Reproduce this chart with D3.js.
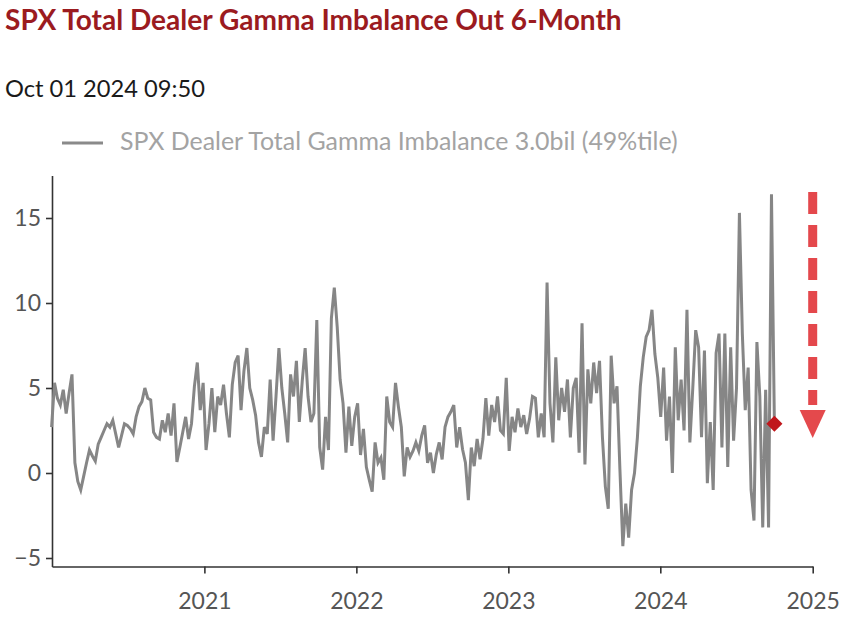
<!DOCTYPE html>
<html>
<head>
<meta charset="utf-8">
<script src="https://cdn.jsdelivr.net/npm/d3@7"></script>
<style>
  html, body { margin: 0; padding: 0; background: #ffffff; }
  svg { display: block; }
</style>
</head>
<body>
<svg id="chart" width="848" height="625"></svg>
<script>
// ---------- data ----------
const titleText = "SPX Total Dealer Gamma Imbalance Out 6-Month";
const subtitleText = "Oct 01 2024 09:50";
const seriesName = "SPX Dealer Total Gamma Imbalance 3.0bil (49%tile)";
const lastDate = "2024-10-01";          // last observation (weekly series, ends here)
const yTicks = [-5, 0, 5, 10, 15];
const xTickYears = [2021, 2022, 2023, 2024, 2025];

// weekly values, bn, oldest first
const gammaValues = [
  2.7,
  5.3, 4.4, 4.0, 4.9, 3.5, 4.7, 5.8, 0.6, -0.5, -1.0,
  -0.2, 0.6, 1.35, 1.0, 0.7, 1.7, 2.1, 2.5, 2.9, 2.7,
  3.1, 2.3, 1.5, 2.2, 2.9, 2.8, 2.6, 2.3, 3.3, 3.9,
  4.2, 5.0, 4.4, 4.3, 2.4, 2.1, 2.0, 3.1, 2.4, 3.5,
  2.2, 4.1, 0.65, 1.5, 2.4, 3.3, 2.0, 2.9, 5.1, 6.5,
  3.7, 5.3, 1.35, 2.9, 5.0, 2.4, 4.5, 4.0, 5.2, 3.5,
  2.1, 5.2, 6.5, 6.9, 3.7, 6.0, 7.35, 5.0, 4.3, 3.4,
  1.8, 0.95, 2.7, 2.3, 5.5, 1.9, 4.5, 7.35, 5.0, 3.5,
  1.8, 5.8, 4.5, 6.6, 3.0, 5.4, 7.35, 4.5, 3.0, 3.5,
  9.0, 1.5, 0.2, 3.3, 1.35, 9.1, 10.9, 8.6, 5.5, 4.1,
  1.2, 3.9, 1.6, 3.3, 4.1, 1.06, 2.6, 0.35, -0.4, -1.1,
  1.8, 0.6, 0.9, -0.4, 4.5, 3.0, 2.7, 5.3, 3.9, 2.7,
  -0.2, 1.5, 0.95, 1.3, 1.8, 1.3, 2.2, 2.8, 0.6, 1.2,
  0.0, 1.1, 1.8, 0.8, 2.7, 3.3, 3.6, 4.0, 1.5, 2.7,
  1.4, 0.6, -1.6, 1.5, 0.4, 2.0, 0.8, 2.0, 4.4, 2.2,
  4.0, 3.0, 4.5, 2.5, 2.3, 5.6, 1.3, 3.3, 2.4, 3.8,
  2.7, 3.4, 2.3, 3.2, 4.5, 4.4, 2.1, 3.5, 2.1, 11.2,
  4.1, 1.8, 6.8, 3.1, 5.0, 3.6, 5.5, 2.1, 5.0, 5.6,
  1.2, 8.8, 0.5, 6.1, 4.1, 6.5, 4.7, 6.6, 2.1, -0.8,
  -2.1, 6.9, 4.1, 5.1, 0.2, -4.3, -1.8, -3.8, -1.0, 0.0,
  2.1, 5.1, 6.8, 8.0, 8.4, 9.6, 7.0, 5.6, 3.3, 6.2,
  1.9, 4.5, 0.0, 7.4, 3.1, 5.5, 2.5, 9.6, 1.8, 5.0,
  8.4, 7.4, 2.1, 7.2, -0.6, 3.0, -1.0, 7.05, 8.2, 1.5,
  8.2, 0.35, 7.4, 1.9, 5.0, 15.3, 8.2, 3.7, 6.2, -1.0,
  -2.8, 7.7, 4.5, -3.2, 4.9, -3.2, 16.4, 2.9
];

// ---------- build series ----------
const parse = d3.utcParse("%Y-%m-%d");
const end = parse(lastDate);
const n = gammaValues.length;
const series = gammaValues.map((v, i) => ({
  date: d3.utcDay.offset(end, -7 * (n - 1 - i)),
  value: v
}));

// ---------- layout ----------
const svg = d3.select("#chart");
const fontFamily = "Lato, 'Open Sans', 'DejaVu Sans', sans-serif";

const x = d3.scaleUtc()
  .domain([new Date(Date.UTC(2020, 0, 1)), new Date(Date.UTC(2025, 0, 1))])
  .range([52, 812.7]);
const y = d3.scaleLinear()
  .domain([-5.5, 17.5])
  .range([566.5, 175.5]);

// fit text to a target width
function fitText(sel, target) {
  const w = sel.node().getComputedTextLength();
  const fs = parseFloat(sel.attr("font-size"));
  sel.attr("font-size", (fs * target / w).toFixed(2));
}

// title
const title = svg.append("text")
  .attr("x", 5).attr("y", 30)
  .attr("font-family", fontFamily)
  .attr("font-weight", "bold")
  .attr("font-size", 22)
  .attr("fill", "#9b1b1f")
  .text(titleText);
fitText(title, 617);

// subtitle
const sub = svg.append("text")
  .attr("x", 5).attr("y", 97)
  .attr("font-family", fontFamily)
  .attr("font-size", 19)
  .attr("fill", "#1a1a1a")
  .text(subtitleText);
fitText(sub, 200);

// legend
svg.append("line")
  .attr("x1", 62).attr("x2", 103)
  .attr("y1", 143).attr("y2", 143)
  .attr("stroke", "#8a8a8a")
  .attr("stroke-width", 3);
const leg = svg.append("text")
  .attr("x", 120).attr("y", 150)
  .attr("font-family", fontFamily)
  .attr("font-size", 19)
  .attr("fill", "#a3a3a3")
  .text(seriesName);
fitText(leg, 558);

// axes
const yAxis = svg.append("g")
  .attr("transform", "translate(52,0)")
  .call(d3.axisLeft(y).tickValues(yTicks).tickSize(6).tickSizeOuter(0).tickPadding(5)
    .tickFormat(d => d < 0 ? "\u2212" + Math.abs(d) : d));
const xAxis = svg.append("g")
  .attr("transform", "translate(0,566.5)")
  .call(d3.axisBottom(x)
    .tickValues(xTickYears.map(yr => new Date(Date.UTC(yr, 0, 1))))
    .tickFormat(d3.utcFormat("%Y"))
    .tickSize(7).tickSizeOuter(0).tickPadding(19));

[yAxis, xAxis].forEach(g => {
  g.select(".domain").attr("stroke", "#333").attr("stroke-width", 1.6);
  g.selectAll(".tick line").attr("stroke", "#333").attr("stroke-width", 1.6);
  g.selectAll(".tick text")
    .attr("font-family", fontFamily)
    .attr("font-size", 23)
    .attr("fill", "#555");
});

// line
const line = d3.line()
  .x(d => x(d.date))
  .y(d => y(d.value));
svg.append("path")
  .datum(series)
  .attr("fill", "none")
  .attr("stroke", "#868686")
  .attr("stroke-width", 3)
  .attr("stroke-linejoin", "miter")
  .attr("d", line);

// last value marker
const last = series[series.length - 1];
svg.append("path")
  .attr("d", d3.symbol().type(d3.symbolSquare).size(130)())
  .attr("transform", `translate(${x(last.date)},${y(last.value)}) rotate(45)`)
  .attr("fill", "#c0171c");

// red dashed arrow
const arrowX = x(new Date(Date.UTC(2025, 0, 1)));
svg.append("line")
  .attr("x1", arrowX).attr("x2", arrowX)
  .attr("y1", 192).attr("y2", 405)
  .attr("stroke", "#e2393d")
  .attr("stroke-width", 9)
  .attr("stroke-dasharray", "22 11")
  .attr("opacity", 0.92);
svg.append("path")
  .attr("d", `M${arrowX - 13},410 L${arrowX + 13},410 L${arrowX},438 Z`)
  .attr("fill", "#e2393d")
  .attr("opacity", 0.92);
</script>
</body>
</html>
